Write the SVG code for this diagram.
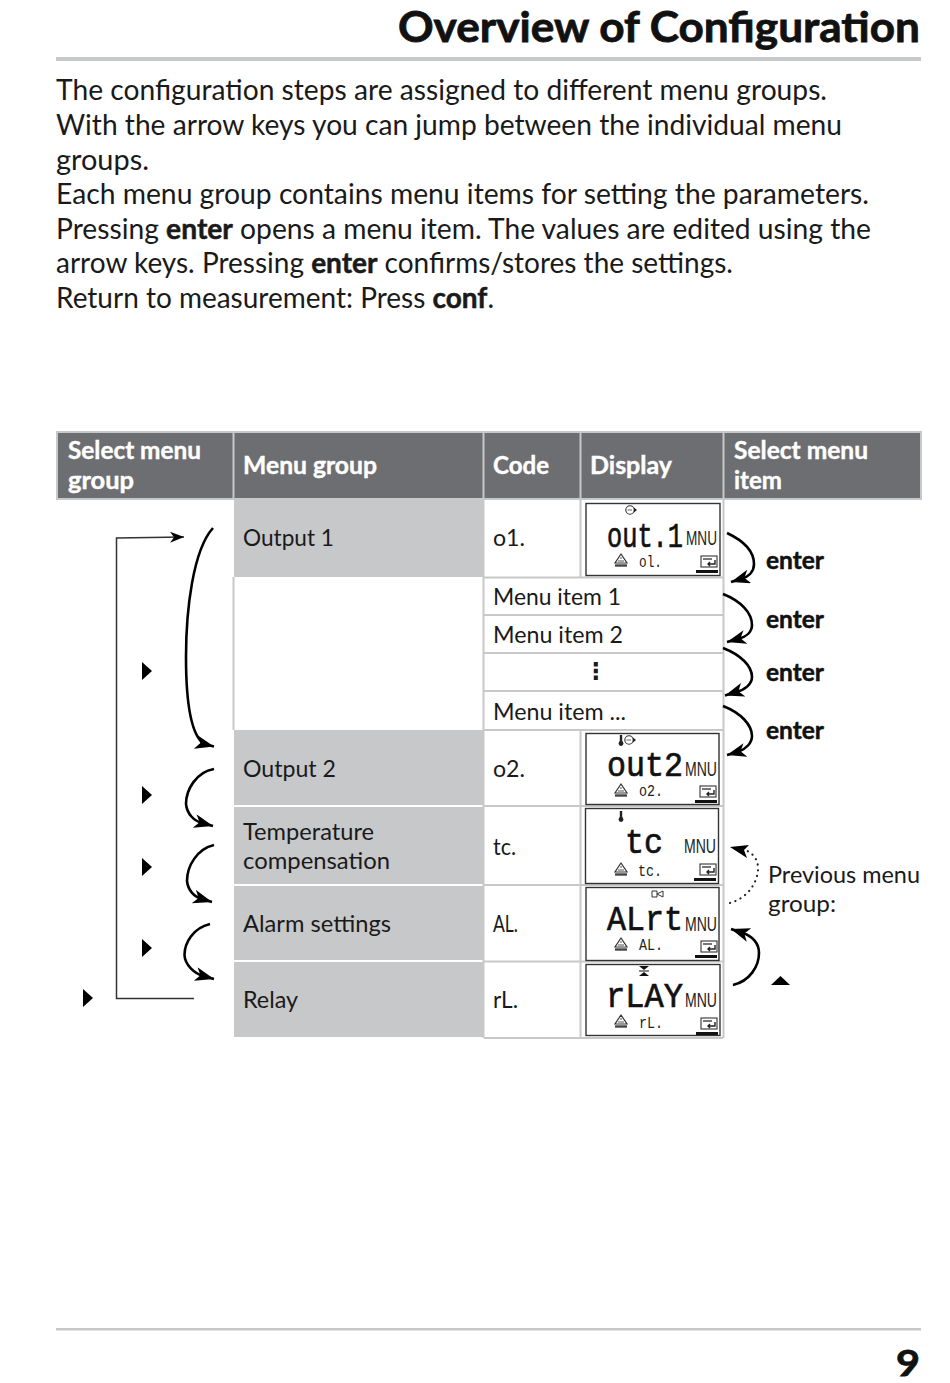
<svg xmlns="http://www.w3.org/2000/svg" width="950" height="1383" viewBox="0 0 950 1383">
<style>
text{font-family:Lato,"Open Sans","Liberation Sans",sans-serif;fill:#1a1a1a}
.title{font-size:42px;font-weight:700;fill:#111;stroke:#111;stroke-width:.8}
.num{font-size:37px;font-weight:700;fill:#111;stroke:#111;stroke-width:.8}
.body{font-size:28px}
.b{font-weight:700;stroke:#1a1a1a;stroke-width:.5}
.hd{font-size:24px;font-weight:700;fill:#fff;stroke:#fff;stroke-width:.4}
.cell{font-size:24px}
.key{font-size:24px;font-weight:700;fill:#111;stroke:#111;stroke-width:.5}
.lcd{font-family:"Liberation Mono","DejaVu Sans Mono",monospace;font-size:35px;font-weight:400;fill:#111;stroke:#111;stroke-width:.7}
.mnu{font-family:"Liberation Sans",sans-serif;font-size:20px;fill:#222}
.sm{font-family:"Liberation Mono","DejaVu Sans Mono",monospace;font-size:17px;fill:#222}
.rule{fill:#c7c8ca}
.grp{fill:#c7c8ca}
.sep{stroke:#c7c8ca;stroke-width:2;fill:none}
.box{fill:#fff;stroke:#333;stroke-width:1.4}
.arc{fill:none;stroke:#000;stroke-width:2.6}
.thin{fill:none;stroke:#333;stroke-width:1.5}
.dot{fill:none;stroke:#222;stroke-width:2.2;stroke-dasharray:.1 5.6;stroke-linecap:round}
</style>
<defs>
<marker id="ah" markerUnits="userSpaceOnUse" markerWidth="22" markerHeight="16" refX="19" refY="7" orient="auto"><path d="M19,7 L0,0 L5,7 L0,14 z" fill="#000"/></marker>
<marker id="as" markerUnits="userSpaceOnUse" markerWidth="18" markerHeight="14" refX="14" refY="5.500" orient="auto"><path d="M14,5.500 L0,0 L4,5.500 L0,11 z" fill="#000"/></marker>
<g id="hold"><path d="M0,-6 L6,3 H-6 z" fill="none" stroke="#333" stroke-width="1.2"/><path d="M-1,-2 H1 M-3,1 H3" stroke="#555"/><path d="M-6,5.500 H6" stroke="#444" stroke-width="2.400"/></g>
<g id="ent"><rect x="0" y="0" width="16" height="11" fill="none" stroke="#333" stroke-width="1.1"/><path d="M2,3 H11" stroke="#555" stroke-width="1.6"/><path d="M14,4 V8 H7 M9,6 L7,8 L9,10" fill="none" stroke="#222" stroke-width="1.4"/></g>
<g id="out"><circle r="4.2" fill="#fff" stroke="#333" stroke-width="1.1"/><path d="M-2.500,0 H2" stroke="#666"/><path d="M4,-2.500 L7,0 L4,2.500 z" fill="#222"/></g>
<g id="therm"><rect x="-1.200" y="-5" width="2.400" height="8" fill="#222"/><circle cy="3.500" r="2.400" fill="#222"/></g>
<path id="tri" d="M0,-9 L10,0 L0,9 z" fill="#000"/>
</defs>

<g id="page">
<text class="title" x="398" y="42" textLength="522" lengthAdjust="spacingAndGlyphs">Overview of Configuration</text>
<rect class="rule" x="56" y="57" width="865" height="4"/>
<text class="body" x="56" y="100" textLength="771" lengthAdjust="spacingAndGlyphs">The configuration steps are assigned to different menu groups.</text>
<text class="body" x="56" y="135" textLength="786" lengthAdjust="spacingAndGlyphs">With the arrow keys you can jump between the individual menu</text>
<text class="body" x="56" y="170" textLength="93" lengthAdjust="spacingAndGlyphs">groups.</text>
<text class="body" x="56" y="204" textLength="813" lengthAdjust="spacingAndGlyphs">Each menu group contains menu items for setting the parameters.</text>
<text class="body" x="56" y="239" textLength="815" lengthAdjust="spacingAndGlyphs">Pressing <tspan class="b">enter</tspan> opens a menu item. The values are edited using the</text>
<text class="body" x="56" y="273" textLength="677" lengthAdjust="spacingAndGlyphs">arrow keys. Pressing <tspan class="b">enter</tspan> confirms/stores the settings.</text>
<text class="body" x="56" y="308" textLength="438" lengthAdjust="spacingAndGlyphs">Return to measurement: Press <tspan class="b">conf</tspan>.</text>
<rect class="rule" x="56" y="1328" width="865" height="2.500"/>
<text class="num" x="896" y="1376" textLength="24" lengthAdjust="spacingAndGlyphs">9</text>
</g>

<g id="header">
<rect x="57" y="432" width="864" height="67" fill="#6d6e71" stroke="#c7c8ca" stroke-width="2"/>
<path class="sep" d="M233.500,432 V499 M483.500,432 V499 M580.500,432 V499 M723.500,432 V499"/>
<text class="hd" x="68" y="459" textLength="133" lengthAdjust="spacingAndGlyphs">Select menu</text>
<text class="hd" x="68" y="489" textLength="66" lengthAdjust="spacingAndGlyphs">group</text>
<text class="hd" x="243" y="474" textLength="134" lengthAdjust="spacingAndGlyphs">Menu group</text>
<text class="hd" x="493" y="474" textLength="56" lengthAdjust="spacingAndGlyphs">Code</text>
<text class="hd" x="590" y="474" textLength="82" lengthAdjust="spacingAndGlyphs">Display</text>
<text class="hd" x="734" y="459" textLength="134" lengthAdjust="spacingAndGlyphs">Select menu</text>
<text class="hd" x="734" y="489" textLength="48" lengthAdjust="spacingAndGlyphs">item</text>
</g>

<g id="grid">
<path class="sep" d="M233.500,577 V730 M483.500,500 V1038 M580.500,500 V577 M580.500,730 V1038 M723.500,500 V1038 M484,577.500 H723 M484,615 H723 M484,653 H723 M484,691 H723 M484,730 H723 M484,806 H723 M484,885 H723 M484,961.500 H723 M484,1038 H723"/>
</g>

<g id="node-output1"><rect class="grp" x="234" y="500" width="249" height="77"/><text class="cell" x="243" y="546" textLength="91" lengthAdjust="spacingAndGlyphs">Output 1</text><text class="cell" x="493" y="546" textLength="32" lengthAdjust="spacingAndGlyphs">o1.</text>
<rect class="box" x="586" y="503.500" width="134" height="72"/><use href="#out" x="630" y="510"/>
<text class="lcd" x="607" y="547" textLength="76" lengthAdjust="spacingAndGlyphs">out.1</text>
<text class="mnu" x="686" y="545" textLength="31" lengthAdjust="spacingAndGlyphs">MNU</text>
<use href="#hold" x="621" y="560"/><text class="sm" x="639" y="567" textLength="23" lengthAdjust="spacingAndGlyphs">ol.</text>
<use href="#ent" x="701" y="556"/><rect x="696" y="570" width="22" height="3" fill="#111"/></g>

<g id="node-item1"><text class="cell" x="493" y="605" textLength="128" lengthAdjust="spacingAndGlyphs">Menu item 1</text></g>
<g id="node-item2"><text class="cell" x="493" y="643" textLength="130" lengthAdjust="spacingAndGlyphs">Menu item 2</text></g>
<g id="node-itemdots"><text x="596" y="679" font-size="23" text-anchor="middle" style="font-family:'DejaVu Sans',sans-serif;font-weight:700">⋮</text></g>
<g id="node-itemn"><text class="cell" x="493" y="720" textLength="133" lengthAdjust="spacingAndGlyphs">Menu item ...</text></g>

<g id="node-output2"><rect class="grp" x="234" y="730" width="249" height="75"/><text class="cell" x="243" y="777" textLength="93" lengthAdjust="spacingAndGlyphs">Output 2</text><text class="cell" x="493" y="777" textLength="32" lengthAdjust="spacingAndGlyphs">o2.</text>
<rect class="box" x="586" y="733.500" width="133" height="71"/><use href="#therm" x="621" y="740"/><use href="#out" x="629" y="740"/>
<text class="lcd" x="607" y="776" textLength="76" lengthAdjust="spacingAndGlyphs">out2</text>
<text class="mnu" x="685" y="776" textLength="32" lengthAdjust="spacingAndGlyphs">MNU</text>
<use href="#hold" x="621" y="790"/><text class="sm" x="639" y="796" textLength="24" lengthAdjust="spacingAndGlyphs">o2.</text>
<use href="#ent" x="700" y="786"/><rect x="695" y="800" width="22" height="3" fill="#111"/></g>

<g id="node-temp"><rect class="grp" x="234" y="807" width="249" height="77"/><text class="cell" x="243" y="840" textLength="131" lengthAdjust="spacingAndGlyphs">Temperature</text><text class="cell" x="243" y="869" textLength="147" lengthAdjust="spacingAndGlyphs">compensation</text><text class="cell" x="493" y="855" textLength="23" lengthAdjust="spacingAndGlyphs">tc.</text>
<rect class="box" x="585.500" y="808.500" width="133" height="75"/><use href="#therm" x="621" y="816"/>
<text class="lcd" x="625" y="853" textLength="38" lengthAdjust="spacingAndGlyphs">tc</text>
<text class="mnu" x="684" y="853" textLength="32" lengthAdjust="spacingAndGlyphs">MNU</text>
<use href="#hold" x="621" y="869"/><text class="sm" x="638" y="876" textLength="24" lengthAdjust="spacingAndGlyphs">tc.</text>
<use href="#ent" x="700" y="864"/><rect x="694" y="878" width="22" height="3" fill="#111"/></g>

<g id="node-alarm"><rect class="grp" x="234" y="886" width="249" height="74"/><text class="cell" x="243" y="932" textLength="148" lengthAdjust="spacingAndGlyphs">Alarm settings</text><text class="cell" x="493" y="932" textLength="25" lengthAdjust="spacingAndGlyphs">AL.</text>
<rect class="box" x="586" y="887.500" width="133" height="73"/><path d="M652,891 H657 V897 H652 z M657,894 L663,891 V897 z" fill="none" stroke="#333"/>
<text class="lcd" x="607" y="930" textLength="76" lengthAdjust="spacingAndGlyphs">ALrt</text>
<text class="mnu" x="685" y="931" textLength="32" lengthAdjust="spacingAndGlyphs">MNU</text>
<use href="#hold" x="621" y="944"/><text class="sm" x="639" y="950" textLength="24" lengthAdjust="spacingAndGlyphs">AL.</text>
<use href="#ent" x="701" y="941"/><rect x="695" y="955" width="22" height="3" fill="#111"/></g>

<g id="node-relay"><rect class="grp" x="234" y="962" width="249" height="75"/><text class="cell" x="243" y="1008" textLength="55" lengthAdjust="spacingAndGlyphs">Relay</text><text class="cell" x="493" y="1008" textLength="25" lengthAdjust="spacingAndGlyphs">rL.</text>
<rect class="box" x="586" y="964.500" width="134" height="71"/><path d="M639,966 H649 L644,970 z M639,976 H649 L644,972 z" fill="#111"/><path d="M639,971 H649" stroke="#111"/>
<text class="lcd" x="606" y="1007" textLength="77" lengthAdjust="spacingAndGlyphs">rLAY</text>
<text class="mnu" x="685" y="1007" textLength="32" lengthAdjust="spacingAndGlyphs">MNU</text>
<use href="#hold" x="621" y="1021"/><text class="sm" x="639" y="1028" textLength="24" lengthAdjust="spacingAndGlyphs">rL.</text>
<use href="#ent" x="701" y="1018"/><rect x="696" y="1032" width="22" height="3" fill="#111"/></g>

<g id="connectors">
<path class="thin" d="M194,998.500 H116.500 V538 L184,537" marker-end="url(#as)"/>
<path class="arc" d="M213,528 C193,550 186,610 186,657 C186,700 191,735 204,744 L214,746.500" marker-end="url(#ah)"/>
<path class="arc" d="M214,769 C196,772 186,790 186,804 C187,814 194,821 202,823 L213,826" marker-end="url(#ah)"/>
<path class="arc" d="M214,845 C197,849 187,866 187,881 C188,890 194,897 202,899 L212,902" marker-end="url(#ah)"/>
<path class="arc" d="M210,924 C193,928 184.500,943 184.500,955 C185,965 194,973 203,976 L214,979" marker-end="url(#ah)"/>
<path class="arc" d="M727,533 C744,541 754,552 754,564 C754,572 748,577 741,579 L731,582" marker-end="url(#ah)"/>
<path class="arc" d="M723,594 C741,601 752,613 752,625 C752,632 746,637 738,639 L727,642" marker-end="url(#ah)"/>
<path class="arc" d="M723,648 C741,655 752,666 752,677 C752,684 745,690 736,692 L725,695.500" marker-end="url(#ah)"/>
<path class="arc" d="M723,706 C741,713 752,725 752,736 C752,743 746,749 738,752 L727,755" marker-end="url(#ah)"/>
<path class="dot" d="M730,903 C748,898 758,882 758,868 C758,858 751,852 745,850"/>
<path d="M730,847 L749,845 L744,850 L747,858 z" fill="#000"/>
<path class="arc" d="M733,985 C750,981 759,966 759,953 C759,943 752,936 743,933 L731,929" marker-end="url(#ah)"/>
</g>

<g id="keys">
<use href="#tri" x="142" y="671"/><use href="#tri" x="142" y="795"/><use href="#tri" x="142" y="867"/><use href="#tri" x="142" y="948"/><use href="#tri" x="83" y="998"/>
<path d="M771,985 L780.500,976 L790,985 z" fill="#000"/>
<text class="key" x="766" y="569" textLength="58" lengthAdjust="spacingAndGlyphs">enter</text>
<text class="key" x="766" y="628" textLength="58" lengthAdjust="spacingAndGlyphs">enter</text>
<text class="key" x="766" y="681" textLength="58" lengthAdjust="spacingAndGlyphs">enter</text>
<text class="key" x="766" y="739" textLength="58" lengthAdjust="spacingAndGlyphs">enter</text>
<text class="cell" x="768" y="883" textLength="152" lengthAdjust="spacingAndGlyphs">Previous menu</text>
<text class="cell" x="768" y="912" textLength="68" lengthAdjust="spacingAndGlyphs">group:</text>
</g>
</svg>
